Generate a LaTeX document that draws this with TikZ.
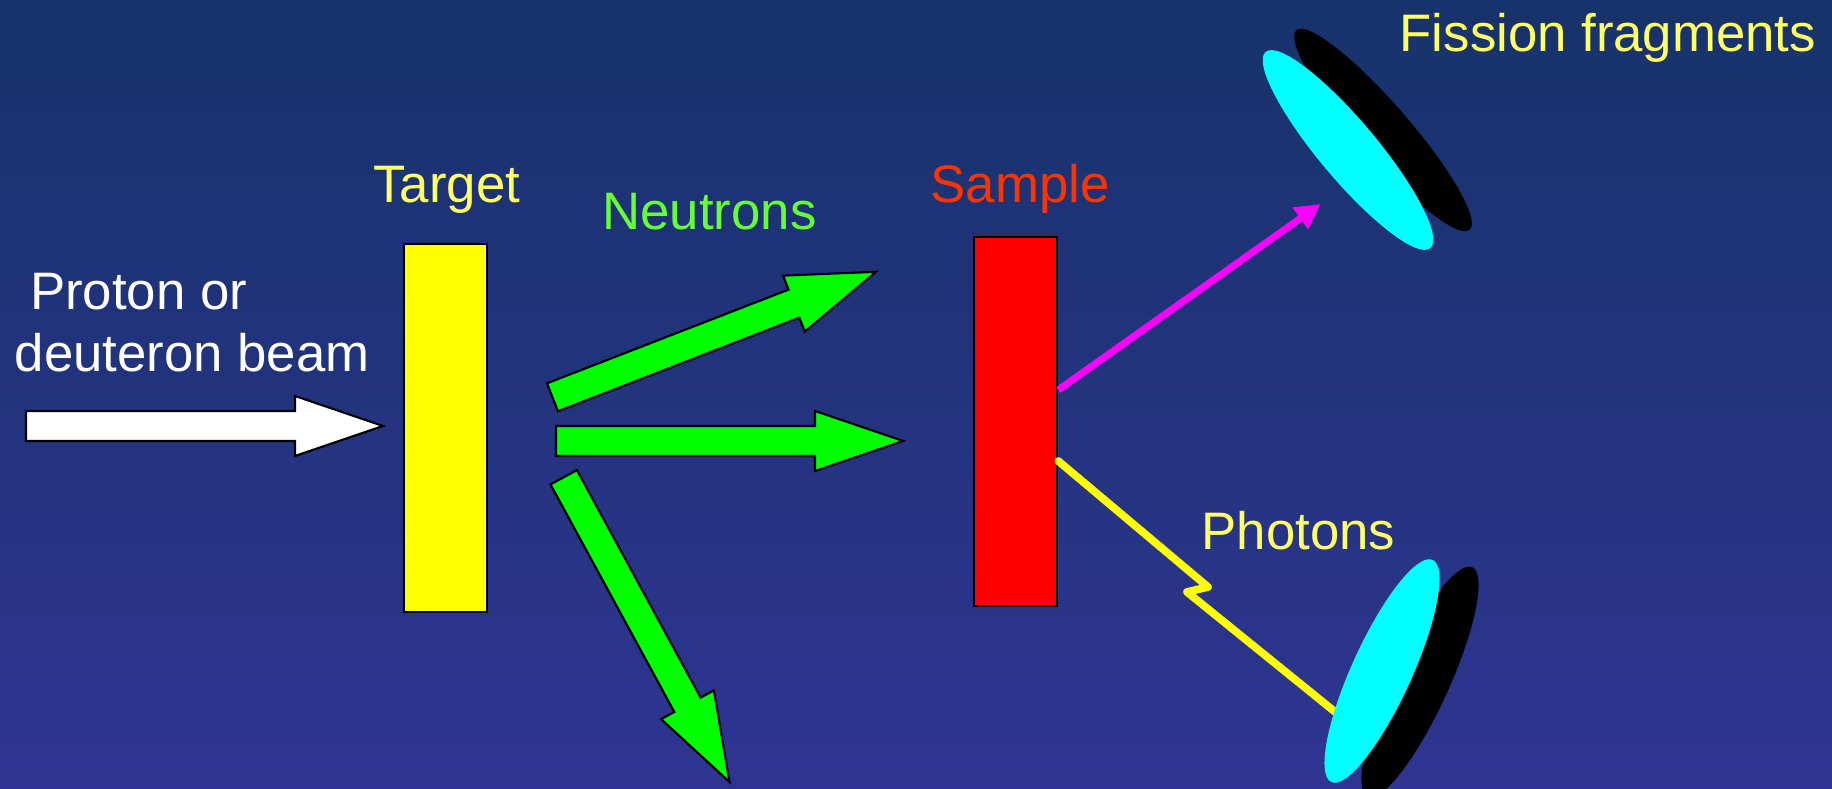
\documentclass[tikz,border=0pt]{standalone}
\usepackage{fontspec}
\setmainfont{Liberation Sans}
\usetikzlibrary{arrows.meta,shapes.geometric}
\definecolor{slideTop}{HTML}{17336B}
\definecolor{slideBottom}{HTML}{2F3492}
\definecolor{labelYellow}{HTML}{FFFF66}
\definecolor{labelGreen}{HTML}{66FF33}
\definecolor{labelRed}{HTML}{FF3300}
\definecolor{targetYellow}{HTML}{FFFF00}
\definecolor{sampleRed}{HTML}{FF0000}
\definecolor{neutronGreen}{HTML}{00FF00}
\definecolor{detectorCyan}{HTML}{00FFFF}
\definecolor{fragMagenta}{HTML}{FF00FF}

\tikzset{
  pics/fatarrow/.style 2 args={code={
    \filldraw[fill=#2,draw=black,line width=.6pt]
      (0,-15) -- ({#1-88},-15) -- ({#1-88},-30) -- (#1,0)
      -- ({#1-88},30) -- ({#1-88},15) -- (0,15) -- cycle;
  }},
  labeltext/.style={inner sep=0pt,font=\fontsize{15}{18}\selectfont},
  slab/.style={draw=black,line width=.6pt,inner sep=0pt,minimum width=.83cm},
  detector/.style={ellipse,inner sep=0pt},
}

\begin{document}
\begin{tikzpicture}[x=.01cm,y=-.01cm]
    \useasboundingbox (0,0) rectangle (1832,789);
    \clip (0,0) rectangle (1832,789);
    \shade[top color=slideTop,bottom color=slideBottom] (0,0) rectangle (1832,789);

    % beam, target and sample
    \pic at (26,426) {fatarrow={357}{white}};
    \node[slab,fill=targetYellow,minimum height=3.68cm] (target) at (445.3,428) {};
    \node[slab,fill=sampleRed,minimum height=3.69cm] (sample) at (1015.7,421.5) {};

    % neutrons
    \pic[rotate=21.2] at (552.5,397.3) {fatarrow={347}{neutronGreen}};
    \pic at (556,441) {fatarrow={347}{neutronGreen}};
    \pic[rotate=-61.45] at (563.7,477.3) {fatarrow={347}{neutronGreen}};

    % labels
    \node[labeltext,white,anchor=base west] (beamlbla) at (29.5,309.3) {Proton or};
    \node[labeltext,white,anchor=base west] (beamlblb) at (14,371.7) {deuteron beam};
    \node[labeltext,labelYellow,anchor=base] (targetlbl) at (446.7,202.7) {Target};
    \node[labeltext,labelGreen,anchor=base] (neutronlbl) at (709.5,229.3) {Neutrons};
    \node[labeltext,labelRed,anchor=base] (samplelbl) at (1020,202.3) {Sample};
    \node[labeltext,labelYellow,anchor=base west] (fraglbl) at (1399,51.7) {Fission fragments};
    \node[labeltext,labelYellow,anchor=base west] (photonlbl) at (1201,550) {Photons};

    % fission fragment and photon paths
    \coordinate (fragtip) at (1320.7,204);
    \coordinate (kinka) at (1208,587);
    \coordinate (kinkb) at (1187,592);
    \coordinate (photonend) at (1350,724);
    \draw[line width=2pt,fragMagenta,-{Triangle[length=.25cm,width=.25cm]}]
      ([yshift=.315cm]sample.east) -- (fragtip);
    \draw[line width=2.2pt,targetYellow,line cap=round,line join=round]
      ([yshift=-.395cm]sample.east) -- (kinka) -- (kinkb) -- (photonend);

    % detectors
    \node[detector,fill=black,minimum width=2.64cm,minimum height=.52cm,rotate=-49] (fragback) at (1383,130) {};
    \node[detector,fill=detectorCyan,minimum width=2.56cm,minimum height=.58cm,rotate=-50] (fragdet) at (1348,150) {};
    \node[detector,fill=black,minimum width=2.52cm,minimum height=.58cm,rotate=65.5] (photonback) at (1420,682) {};
    \node[detector,fill=detectorCyan,minimum width=2.44cm,minimum height=.6cm,rotate=65.5] (photondet) at (1382,671) {};
\end{tikzpicture}
\end{document}
